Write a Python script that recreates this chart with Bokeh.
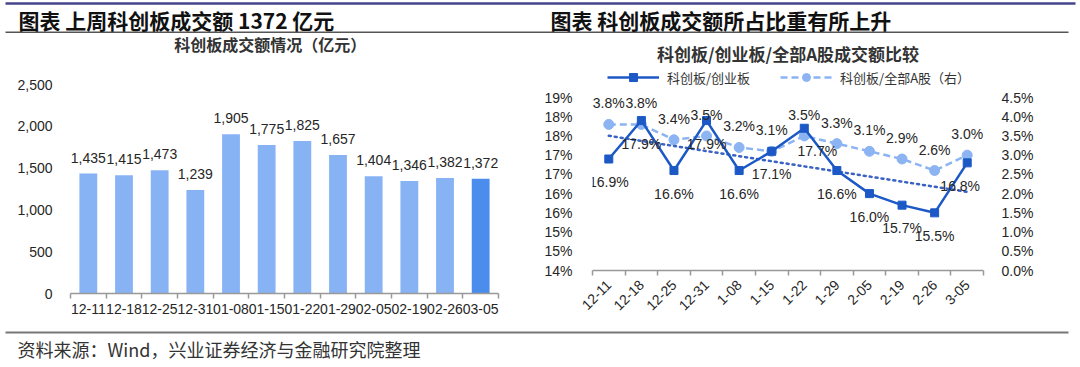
import numpy as np
from math import pi
from bokeh.plotting import figure
from bokeh.core.properties import value
from bokeh.models import (Range1d, LinearAxis, FixedTicker, SingleIntervalTicker,
                          NumeralTickFormatter, PrintfTickFormatter, ColumnDataSource,
                          LabelSet, Label, Legend, LegendItem)
from bokeh.layouts import column, row
from bokeh.embed import file_html
from bokeh.resources import INLINE

# ---------------- data ----------------
TITLE_LEFT = "图表 上周科创板成交额 1372 亿元"
TITLE_RIGHT = "图表 科创板成交额所占比重有所上升"
SUB_LEFT = "科创板成交额情况（亿元）"
SUB_RIGHT = "科创板/创业板/全部A股成交额比较"
SOURCE = "资料来源：Wind，兴业证券经济与金融研究院整理"

bar_dates = ["12-11", "12-18", "12-25", "12-31", "01-08", "01-15",
             "01-22", "01-29", "02-05", "02-19", "02-26", "03-05"]
turnover = [1435, 1415, 1473, 1239, 1905, 1775, 1825, 1657, 1404, 1346, 1382, 1372]

line_dates = ["12-11", "12-18", "12-25", "12-31", "1-08", "1-15",
              "1-22", "1-29", "2-05", "2-19", "2-26", "3-05"]
star_vs_chinext = [16.9, 17.9, 16.6, 17.9, 16.6, 17.1, 17.7, 16.6, 16.0, 15.7, 15.5, 16.8]
star_vs_all_a = [3.8, 3.8, 3.4, 3.5, 3.2, 3.1, 3.5, 3.3, 3.1, 2.9, 2.6, 3.0]
series_names = ["科创板/创业板", "科创板/全部A股（右）"]

# ---------------- styles ----------------
CJK = "Noto Sans CJK SC"
NUM = "Liberation Sans"
TXT = "#262626"
BAR = "#87b3f5"
BAR_HI = "#4a8ded"
DARK = "#1c59c6"
LIGHT = "#8cb4f2"
TREND = "#3a62c4"
AXIS = "#999999"
W = 1076
LW = 540
RW = W - LW


def deco_fig(w, h, x_range=None):
    return figure(width=w, height=h, x_range=x_range or Range1d(0, w), y_range=Range1d(h, 0),
                  x_axis_type=None, y_axis_type=None, toolbar_location=None,
                  output_backend="svg", min_border=0, outline_line_color=None)


def style_cat_xaxis(ax, xs, labels, size):
    ax.ticker = FixedTicker(ticks=xs, minor_ticks=[i + 0.5 for i in range(len(xs) + 1)])
    ax.major_label_overrides = {x: d for x, d in zip(xs, labels)}
    ax.major_tick_line_color = None
    ax.major_tick_out = 5
    ax.major_tick_in = 0
    ax.minor_tick_line_color = AXIS
    ax.minor_tick_out = 5
    ax.minor_tick_in = 0
    ax.minor_tick_line_width = 1.5
    ax.axis_line_color = AXIS
    ax.axis_line_width = 1.5
    ax.major_label_text_font = NUM
    ax.major_label_text_font_size = size
    ax.major_label_text_color = TXT


def style_val_axis(ax, standoff):
    ax.axis_line_color = None
    ax.major_tick_line_color = None
    ax.minor_tick_line_color = None
    ax.major_label_standoff = standoff
    ax.major_label_text_font = NUM
    ax.major_label_text_font_size = "14px"
    ax.major_label_text_color = TXT


# ================= header (full width) =================
hdr = deco_fig(W, 33)
hdr.segment(x0=[5], y0=[3], x1=[1075], y1=[3], line_color="#45458a", line_width=2.5)
hdr.segment(x0=[5], y0=[32], x1=[1068], y1=[32], line_color="#555555", line_width=2)
for tx_, tt in ((18, TITLE_LEFT), (550, TITLE_RIGHT)):
    hdr.add_layout(Label(x=tx_, y=19, text=tt, text_font=CJK, text_font_size="21px",
                         text_font_style="bold", text_baseline="middle", text_color="#111111"))

# ================= left chart =================
xs = list(range(1, len(bar_dates) + 1))
xrange_l = Range1d(0.5, len(xs) + 0.5)
subL = deco_fig(LW, 43, x_range=xrange_l)
subL.add_layout(Label(x=6.1, y=10.5, text=SUB_LEFT, text_font=CJK, text_font_size="16px",
                      text_font_style="bold", text_align="center", text_baseline="middle",
                      text_color="#333333"))

pl = figure(width=LW, height=249, x_range=xrange_l, y_range=Range1d(0, 2500),
            toolbar_location=None, output_backend="svg", outline_line_color=None,
            min_border_left=70, min_border_right=42, min_border_top=8, min_border_bottom=32)
bar_src = ColumnDataSource(dict(
    x=xs, top=turnover,
    color=[BAR] * (len(xs) - 1) + [BAR_HI],
    label=[f"{v:,}" for v in turnover]))
pl.vbar(x="x", top="top", width=0.5, fill_color="color", line_color=None, source=bar_src)
pl.add_layout(LabelSet(x="x", y="top", text="label", source=bar_src, y_offset=16,
                       text_align="center", text_baseline="middle",
                       text_font=value(NUM), text_font_size="14px", text_color=TXT))
pl.xgrid.visible = False
pl.ygrid.visible = False
pl.yaxis.ticker = SingleIntervalTicker(interval=500, num_minor_ticks=0)
pl.yaxis.formatter = NumeralTickFormatter(format="0,0")
style_val_axis(pl.yaxis[0], 12)
style_cat_xaxis(pl.xaxis[0], xs, bar_dates, "14px")
pl.xaxis.major_label_standoff = 5

# ================= right chart =================
xr = list(range(1, len(line_dates) + 1))
xrange_r = Range1d(0.5, len(xr) + 0.5)
subR = deco_fig(RW, 56, x_range=xrange_r)
subR.add_layout(Label(x=6.5, y=19.5, text=SUB_RIGHT, text_font=CJK, text_font_size="17px",
                      text_font_style="bold", text_align="center", text_baseline="middle",
                      text_color="#333333"))
# legend-only renderers (no visible marks)
nan_src = ColumnDataSource(dict(x=[float("nan")], y=[float("nan")]))
dl1 = subR.line("x", "y", source=nan_src, line_color=DARK, line_width=2.5)
ds1 = subR.scatter("x", "y", source=nan_src, marker="square", size=8, fill_color=DARK, line_color=DARK)
dl2 = subR.line("x", "y", source=nan_src, line_color=LIGHT, line_width=2.5, line_dash="7 4")
ds2 = subR.scatter("x", "y", source=nan_src, marker="circle", size=10, fill_color=LIGHT, line_color=LIGHT)
legend = Legend(items=[LegendItem(label=series_names[0], renderers=[dl1, ds1]),
                       LegendItem(label=series_names[1], renderers=[dl2, ds2])],
                location=(15, 2), orientation="horizontal", glyph_width=52, glyph_height=20,
                spacing=30, label_standoff=8, padding=0, margin=0,
                border_line_color=None, background_fill_alpha=0,
                label_text_font=CJK, label_text_font_size="13px", label_text_color="#333333")
subR.add_layout(legend)

pr = figure(width=RW, height=236, x_range=xrange_r, y_range=Range1d(14, 18.5),
            toolbar_location=None, output_backend="svg", outline_line_color=None,
            min_border_left=52, min_border_right=RW - 52 - 391, min_border_top=8,
            min_border_bottom=55)
pr.extra_y_ranges = {"right": Range1d(0, 4.5)}
pr.xgrid.visible = False
pr.ygrid.visible = False

# label nudges (pixels) so labels sit as in the original and stay inside the frame
dark_dx = [0] * len(xr)
dark_dx[6] = 13
dark_dx[-1] = -7

src_r = ColumnDataSource(dict(
    x=xr, a=star_vs_chinext, b=star_vs_all_a, dx=dark_dx,
    la=[f"{v:.1f}%" for v in star_vs_chinext],
    lb=[f"{v:.1f}%" for v in star_vs_all_a]))

pr.line("x", "b", source=src_r, y_range_name="right", line_color=LIGHT,
        line_width=2.5, line_dash="7 4")
pr.scatter("x", "b", source=src_r, y_range_name="right", marker="circle", size=10,
           fill_color=LIGHT, line_color=LIGHT)

coef = np.polyfit(xr, star_vs_chinext, 1)
tx = [xr[0], xr[-1]]
pr.line(tx, list(np.polyval(coef, tx)), line_color=TREND, line_width=2.5,
        line_dash="2 4", line_cap="round")

pr.line("x", "a", source=src_r, line_color=DARK, line_width=2.5)
pr.scatter("x", "a", source=src_r, marker="square", size=8, fill_color=DARK, line_color=DARK)

pr.add_layout(LabelSet(x="x", y="a", text="la", source=src_r, y_offset=-23, x_offset="dx",
                       text_align="center", text_baseline="middle",
                       text_font=value(NUM), text_font_size="14px", text_color=TXT))
pr.add_layout(LabelSet(x="x", y="b", text="lb", source=src_r, y_range_name="right",
                       y_offset=21, text_align="center", text_baseline="middle",
                       text_font=value(NUM), text_font_size="14px", text_color=TXT))

pr.yaxis.ticker = SingleIntervalTicker(interval=0.5, num_minor_ticks=0)
pr.yaxis.formatter = PrintfTickFormatter(format="%.0f%%")
ax_r = LinearAxis(y_range_name="right",
                  ticker=SingleIntervalTicker(interval=0.5, num_minor_ticks=0),
                  formatter=PrintfTickFormatter(format="%.1f%%"))
pr.add_layout(ax_r, "right")
style_val_axis(pr.yaxis[0], 14)
style_val_axis(ax_r, 12)
style_cat_xaxis(pr.xaxis[0], xr, line_dates, "14px")
pr.xaxis.major_label_orientation = pi / 4
pr.xaxis.major_label_standoff = 7

# ================= footer (full width) =================
ftr = deco_fig(W, 40)
ftr.segment(x0=[5], y0=[7], x1=[1068], y1=[7], line_color="#777777", line_width=2)
ftr.add_layout(Label(x=17, y=23, text=SOURCE, text_font=CJK, text_font_size="18px",
                     text_baseline="middle", text_color="#333333"))

layout = column(hdr, row(column(subL, pl), column(subR, pr)), ftr)
open("out.html", "w").write(file_html(layout, INLINE, title="chart"))
